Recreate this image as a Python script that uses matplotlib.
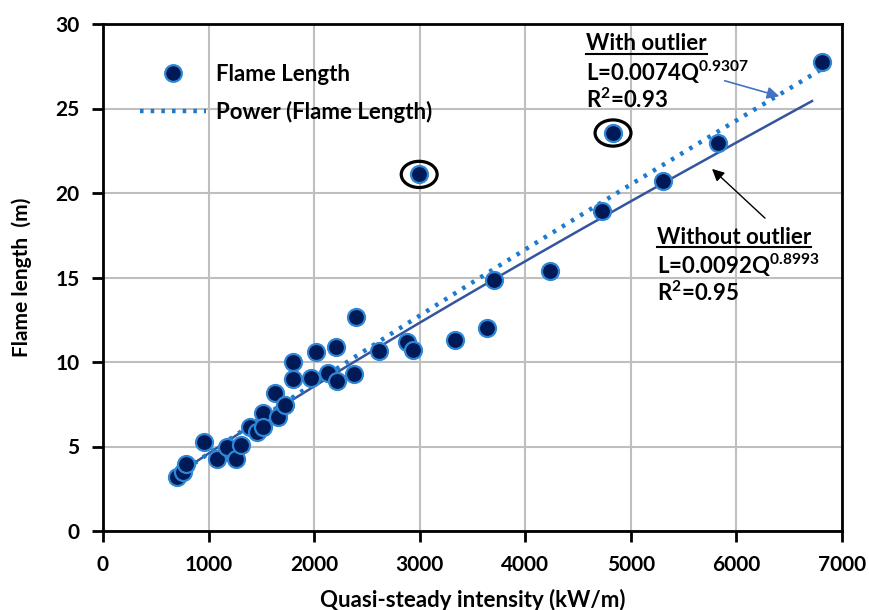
import numpy as np
import matplotlib
matplotlib.use("Agg")
import matplotlib.pyplot as plt
from matplotlib.patches import Ellipse
from matplotlib.lines import Line2D

plt.rcParams['font.family'] = ['Lato', 'DejaVu Sans']
plt.rcParams['font.weight'] = 'bold'
plt.rcParams['mathtext.default'] = 'regular'

# data
intensity = [698, 761, 786, 960, 1077, 1171, 1260, 1304, 1392, 1456, 1519, 1519,
             1629, 1661, 1724, 1797, 1803, 1970, 2015, 2128, 2207, 2213, 2381,
             2397, 2617, 2876, 2939, 2995, 3334, 3640, 3707, 4232, 4730, 4831,
             5304, 5825, 6811]
flame_len = [3.2, 3.5, 3.95, 5.25, 4.26, 4.99, 4.26, 5.09, 6.17, 5.87, 6.96, 6.17,
             8.18, 6.76, 7.46, 10.0, 8.99, 9.07, 10.6, 9.33, 10.9, 8.89, 9.27,
             12.64, 10.65, 11.2, 10.71, 21.1, 11.3, 12.03, 14.85, 15.38, 18.95, 23.55,
             20.71, 22.94, 27.75]
outliers_x = [2995, 4831]
outliers_y = [21.1, 23.55]

# power fits given on the chart
a_with, b_with = 0.0074, 0.9307
a_wo, b_wo = 0.0092, 0.8993
x_with = np.linspace(min(intensity), max(intensity), 200)
x_wo = np.linspace(min(intensity), 6716, 200)

fig = plt.figure(figsize=(8.7, 6.1), dpi=100)
ax = fig.add_axes([103/870, 1-531/610, 739/870, 507/610])

ax.plot(x_wo, a_wo * x_wo**b_wo, color='#34549E', lw=1.8, zorder=3)
ax.plot(x_with, a_with * x_with**b_with, color='#1C7AD0', lw=3.2, ls=(0, (0.8, 1.6)), zorder=3)
ax.scatter(intensity, flame_len, s=150, color='#001A57', edgecolors='#2E86D6', linewidths=1.6, zorder=4)

for ox, oy in zip(outliers_x, outliers_y):
    ax.add_patch(Ellipse((ox, oy), 340, 1.55, fill=False, ec='black', lw=2.3, zorder=5))

ax.set_xlim(0, 7000)
ax.set_ylim(0, 30)
ax.set_xticks(np.arange(0, 7001, 1000))
ax.set_yticks(np.arange(0, 31, 5))
ax.grid(True, color='#BFBFBF', lw=1.5)
ax.set_axisbelow(True)
for sp in ax.spines.values():
    sp.set_linewidth(2)
    sp.set_color('black')
ax.tick_params(direction='out', length=8, width=2, labelsize=15)
ax.tick_params(axis='x', pad=9)
ax.tick_params(axis='y', pad=9)
for lab in ax.get_xticklabels() + ax.get_yticklabels():
    lab.set_fontweight('bold')
ax.set_xlabel('Quasi-steady intensity (kW/m)', fontsize=16, fontweight='bold', labelpad=10)
ax.set_ylabel('Flame length  (m)', fontsize=15, fontweight='bold', labelpad=17)

handles = [Line2D([], [], ls='none', marker='o', ms=12, mfc='#001A57', mec='#2E86D6', mew=1.6),
           Line2D([], [], color='#1C7AD0', lw=3.2, ls=(0, (0.8, 1.6)))]
leg = ax.legend(handles, ['Flame Length', 'Power (Flame Length)'], frameon=False,
                loc='upper left', bbox_to_anchor=(0.05, 0.922), handlelength=2.95,
                handletextpad=0.45, borderpad=0, borderaxespad=0,
                prop={'size': 16, 'weight': 'bold'}, labelspacing=0.72)

# annotations
def note(x, y, title, eq, r2):
    t = fig.text(x/870, 1-y/610, title, fontsize=16, fontweight='bold', va='center')
    fig.text(x/870, 1-(y+28)/610, eq, fontsize=16, fontweight='bold', va='center')
    fig.text(x/870, 1-(y+56)/610, r2, fontsize=16, fontweight='bold', va='center')
    return t, y

notes = [note(586, 44, 'With outlier', 'L=0.0074Q$^{0.9307}$', 'R$^{2}$=0.93'),
         note(657, 237, 'Without outlier', 'L=0.0092Q$^{0.8993}$', 'R$^{2}$=0.95')]

fig.canvas.draw()
r = fig.canvas.get_renderer()
for t, y in notes:
    bb = t.get_window_extent(r).transformed(fig.transFigure.inverted())
    yy = 1 - (y + 10)/610
    fig.add_artist(Line2D([bb.x0, bb.x1], [yy, yy], color='black', lw=1.5,
                          transform=fig.transFigure))

ax.annotate('', xy=(782/870, 1-97/610), xytext=(722/870, 1-80/610), xycoords='figure fraction',
            arrowprops=dict(arrowstyle='-|>', color='#4472C4', lw=1.2, mutation_scale=18))
ax.annotate('', xy=(710/870, 1-167/610), xytext=(767/870, 1-220/610), xycoords='figure fraction',
            arrowprops=dict(arrowstyle='-|>', color='black', lw=1.0, mutation_scale=18))

fig.savefig('out.png', dpi=100)
